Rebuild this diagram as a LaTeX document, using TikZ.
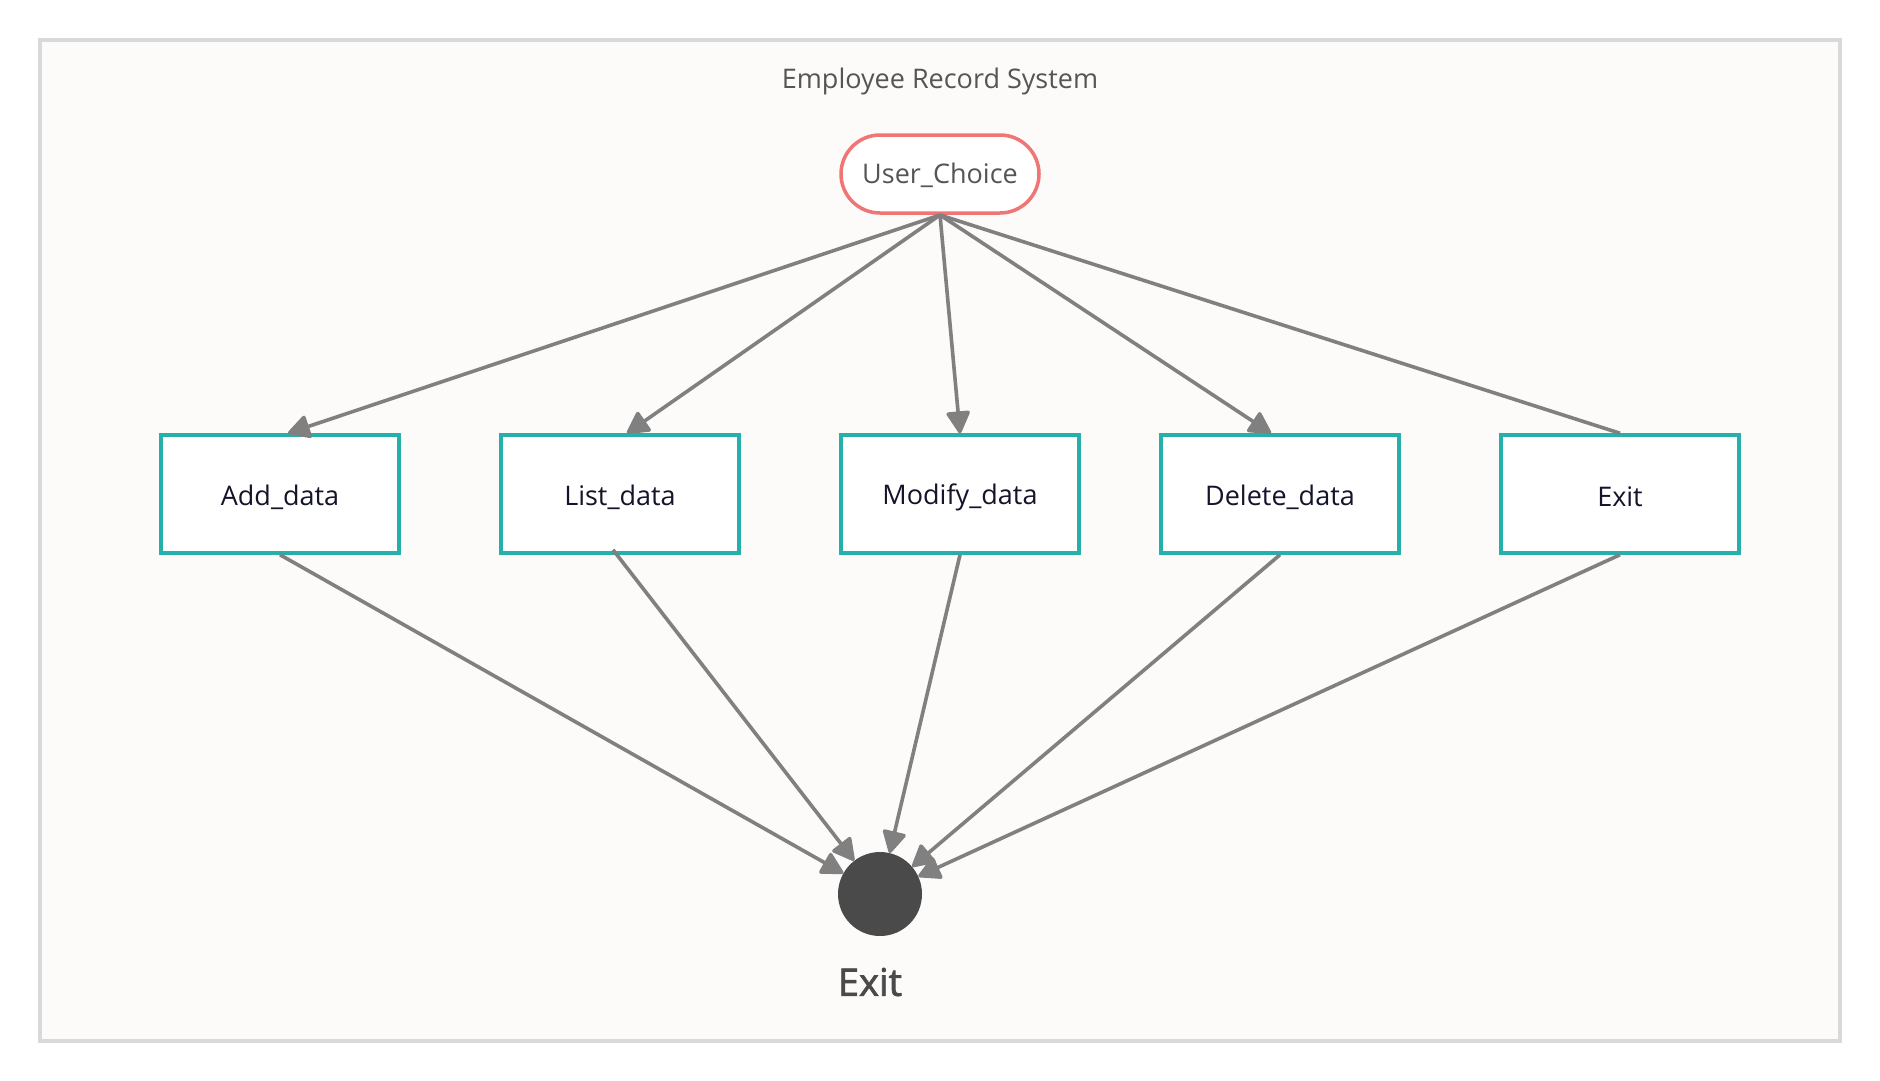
\documentclass[tikz,border=0pt]{standalone}
\usepackage{fontspec}
\setmainfont{Open Sans}
\newfontfamily\semibf[FakeBold=2]{Open Sans}
\usetikzlibrary{arrows.meta,shapes.misc}
\definecolor{framegray}{HTML}{D9D9D9}
\definecolor{bgpaper}{HTML}{FCFBFA}
\definecolor{ucred}{HTML}{F07575}
\definecolor{teal2}{HTML}{26B0AC}
\definecolor{edgegray}{HTML}{808080}
\definecolor{darktext}{HTML}{14142B}
\definecolor{midtext}{HTML}{555555}
\definecolor{dotgray}{HTML}{4A4A4A}
\newcommand{\dn}[1]{\raisebox{-1.5pt}[\height][\depth]{#1}}
\newcommand{\dnb}[1]{\raisebox{-3pt}[\height][\depth]{#1}}
\begin{document}
\begin{tikzpicture}[x=1pt,y=-1pt,
  procbox/.style={draw=teal2,line width=3.5pt,fill=white,minimum width=238pt,minimum height=118pt,inner sep=0pt,text=darktext,font=\fontsize{27}{31}\selectfont},
  choicebox/.style={rounded rectangle,draw=ucred,line width=3.5pt,fill=white,minimum width=198pt,minimum height=78pt,inner sep=0pt,text=midtext,font=\fontsize{27}{31}\selectfont},
  conn/.style={draw=edgegray,line width=3.6pt},
  arr/.style={conn,-{Triangle[length=24pt,width=25pt,round]}}]
\useasboundingbox (0,0) rectangle (1880,1080);
\fill[white] (0,0) rectangle (1880,1080);
\draw[framegray,fill=bgpaper,line width=4pt] (40,40) rectangle (1840,1041);
\node[text=midtext,font=\fontsize{27}{31}\selectfont] (title) at (940,80) {\dn{Employee Record System}};
\node[choicebox] (uc) at (940,174) {\dn{User\_Choice}};
\node[procbox] (add) at (280,494) {\dnb{Add\_data}};
\node[procbox] (list) at (620,494) {\dnb{List\_data}};
\node[procbox] (mod) at (960,494) {\dnb{Modify\_data}};
\node[procbox] (del) at (1280,494) {\dnb{Delete\_data}};
\node[procbox] (exb) at (1620,494) {\dnb{Exit}};
\node[circle,fill=dotgray,minimum size=84pt,inner sep=0pt] (endc) at (880,894) {};
\node[text=dotgray,font=\fontsize{38}{42}\semibf] (endlbl) at (870,982) {Exit};
\coordinate (ucs) at (940,215);
\draw[arr] (ucs) -- ([xshift=8pt]add.north);
\draw[arr] (ucs) -- ([xshift=7pt]list.north);
\draw[arr] (ucs) -- (mod.north);
\draw[arr] (ucs) -- ([xshift=-9pt]del.north);
\draw[conn] (exb.north) -- (ucs);
\draw[arr] (add.south) -- (endc);
\draw[arr] ([xshift=-7pt,yshift=5pt]list.south) -- (endc);
\draw[arr] (mod.south) -- (endc);
\draw[arr] (del.south) -- (endc);
\draw[arr] (exb.south) -- (endc);
\end{tikzpicture}
\end{document}
